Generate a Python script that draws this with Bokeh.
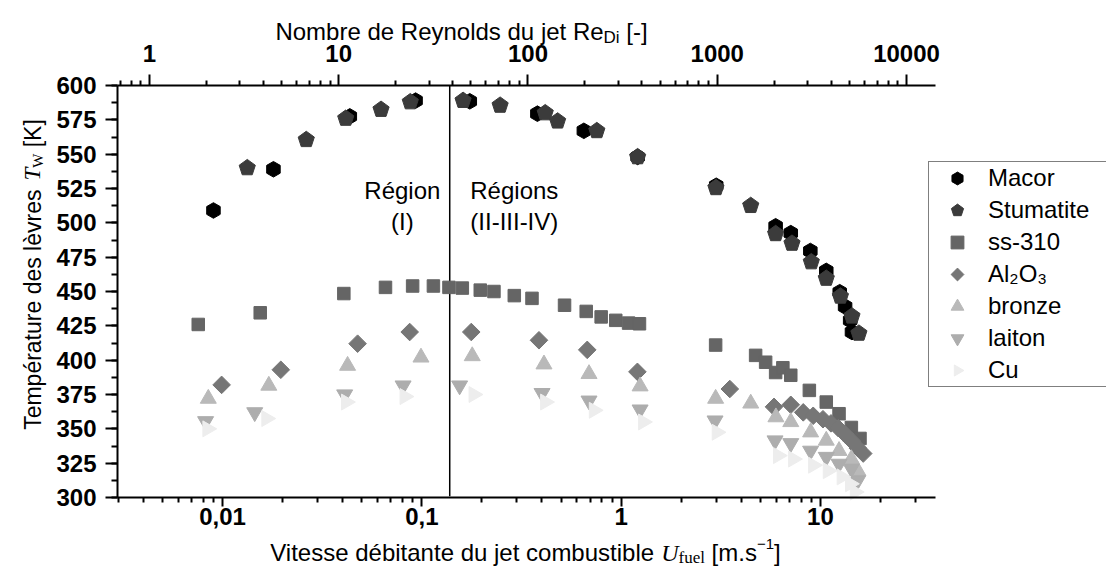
import math
from bokeh.plotting import figure
from bokeh.models import (Range1d, LogScale, LogAxis, FixedTicker, CustomJSTickFormatter,
                          SingleIntervalTicker, Label, Legend, LegendItem)
from bokeh.embed import file_html
from bokeh.resources import INLINE

# ---------------- data ----------------
macor_u = [0.0090, 0.0180, 0.0435, 0.093, 0.174, 0.38, 0.65, 1.21, 3.0, 5.96, 7.1, 8.9, 10.7, 12.5, 13.3, 14.1, 14.4]
macor_t = [509, 539, 577.5, 589, 588.5, 579.5, 567, 548, 527, 497.5, 492.5, 479.5, 465, 449.5, 439, 429, 420.5]

stum_u = [0.0133, 0.0263, 0.0415, 0.0624, 0.0875, 0.161, 0.247, 0.416, 0.48, 0.755, 1.21, 2.99, 4.47, 5.96, 7.2, 9.0, 10.7, 12.6, 14.4, 15.6]
stum_t = [540, 560.5, 576, 582.5, 588, 589, 585.5, 580, 574, 567, 548, 525.5, 512.5, 492, 485, 471.5, 459.5, 446.5, 432, 419.5]

ss_u = [0.00755, 0.01545, 0.0406, 0.0657, 0.0899, 0.1143, 0.1368, 0.1596, 0.1964, 0.23, 0.291, 0.357,
        0.52, 0.668, 0.794, 0.94, 1.09, 1.236, 2.98, 4.73, 5.31, 5.96, 6.48, 7.1, 8.8, 10.7, 12.4, 14.3, 15.8]
ss_t = [426, 434.5, 448.5, 453, 454, 454, 453, 452.5, 451, 450, 447, 445,
        440, 435.5, 431.5, 429, 427, 426.5, 411, 403.5, 398.5, 391, 394.5, 389, 378, 369.5, 361, 351, 343]

al_u = [0.00989, 0.0196, 0.0476, 0.0869, 0.177, 0.387, 0.676, 1.207, 3.51, 5.85, 7.1, 8.2, 9.2, 10.3, 11.3, 12.3, 13.3, 14.4, 15.4, 16.4]
al_t = [382, 393, 412, 420.5, 420.5, 414.5, 407.5, 391.5, 379, 366, 367.5, 362, 359.5, 357, 354, 350.5, 346, 341, 336, 332]

bronze_u = [0.00848, 0.01706, 0.0424, 0.099, 0.179, 0.41, 0.69, 1.245, 2.98, 4.47, 5.98, 7.1, 8.93, 10.7, 12.4, 14.3, 15.4]
bronze_t = [372, 381.5, 396, 402, 403, 397, 390, 381, 372, 368.5, 358.5, 355, 347.5, 341.5, 334, 328, 319.5]

laiton_u = [0.00822, 0.0145, 0.041, 0.0805, 0.1547, 0.401, 0.69, 1.245, 2.96, 5.92, 7.1, 8.93, 10.7, 12.4, 14.3, 15.4]
laiton_t = [355.5, 362, 375, 381.5, 381.5, 376, 370.5, 364, 356, 341.5, 339.5, 334, 329.5, 324.5, 321, 312.5]

cu_u = [0.0084, 0.0166, 0.0417, 0.082, 0.182, 0.416, 0.73, 1.29, 3.02, 6.13, 7.3, 9.2, 10.9, 12.8, 14.1, 14.9]
cu_t = [350, 357.5, 369.5, 373.5, 375, 369.5, 363.5, 355, 347.5, 330.5, 328, 323.5, 319.5, 315, 310, 304]

series_names = ["Macor", "Stumatite", "ss-310", "Al\u2082O\u2083", "bronze", "laiton", "Cu"]

u_ticks = [0.01, 0.1, 1, 10]
re_ticks = [1, 10, 100, 1000, 10000]
t_interval = 25
u_bounds = (0.00297, 37.8)
re_bounds = (0.678, 14230)
t_bounds = (300, 600)
region_boundary_u = 0.138
region_labels = [("Région", "(I)", 0.0798), ("Régions", "(II-III-IV)", 0.291)]

# ---------------- geometry ----------------
# The plotting frame fills the whole canvas; the axes are pinned with fixed_location/bounds
# so that the data area sits at page x 117..935, y 85..497.
W, H = 1106, 567
FL, FT, FR, FB = 117, 85, 935, 497
SANS = "Liberation Sans"
SERIF = "Liberation Serif"

lu0, lu1 = math.log10(u_bounds[0]), math.log10(u_bounds[1])
pxu = (FR - FL) / (lu1 - lu0)
x_full = (10 ** (lu0 - FL / pxu), 10 ** (lu1 + (W - FR) / pxu))
pxt = (FB - FT) / (t_bounds[1] - t_bounds[0])
y_full = (t_bounds[0] - (H - FB) / pxt, t_bounds[1] + FT / pxt)
lr0, lr1 = math.log10(re_bounds[0]), math.log10(re_bounds[1])
pxr = (FR - FL) / (lr1 - lr0)
re_full = (10 ** (lr0 - FL / pxr), 10 ** (lr1 + (W - FR) / pxr))

p = figure(width=W, height=H, x_axis_type="log",
           x_range=Range1d(*x_full), y_range=Range1d(*y_full),
           output_backend="svg", toolbar_location=None,
           min_border_left=0, min_border_top=0, min_border_right=0, min_border_bottom=0)
p.outline_line_color = None
p.grid.visible = False
p.background_fill_color = "white"
p.border_fill_color = "white"

def style_axis(ax, tick_out, minor_out, standoff):
    ax.axis_line_color = "black"
    ax.axis_line_width = 2
    ax.major_tick_line_color = "black"
    ax.major_tick_line_width = 2
    ax.minor_tick_line_color = "black"
    ax.minor_tick_line_width = 2
    ax.major_tick_in = 0
    ax.minor_tick_in = 0
    ax.major_tick_out = tick_out
    ax.minor_tick_out = minor_out
    ax.major_label_text_font = SANS
    ax.major_label_text_font_style = "bold"
    ax.major_label_text_font_size = "24px"
    ax.major_label_text_color = "black"
    ax.major_label_standoff = standoff
    ax.axis_label = None

def minor_list(lo, hi, e0, e1):
    return [m * 10.0 ** e for e in range(e0, e1) for m in range(2, 10)
            if lo <= m * 10.0 ** e <= hi]

# bottom axis
bx = p.xaxis[0]
bx.ticker = FixedTicker(ticks=u_ticks, minor_ticks=minor_list(*u_bounds, -3, 2))
bx.formatter = CustomJSTickFormatter(code="return String(tick).replace('.', ',');")
bx.fixed_location = t_bounds[0]
bx.bounds = u_bounds
style_axis(bx, 9, 5, 1)

# left axis
ly = p.yaxis[0]
ly.ticker = SingleIntervalTicker(interval=t_interval, num_minor_ticks=2)
ly.fixed_location = u_bounds[0]
ly.bounds = t_bounds
style_axis(ly, 12, 6, 9)

# top axis (Reynolds)
p.extra_x_ranges = {"re": Range1d(*re_full)}
p.extra_x_scales = {"re": LogScale()}
tx = LogAxis(x_range_name="re")
tx.ticker = FixedTicker(ticks=re_ticks, minor_ticks=minor_list(*re_bounds, -1, 5))
tx.formatter = CustomJSTickFormatter(code="return String(Math.round(tick));")
tx.fixed_location = t_bounds[1]
tx.bounds = re_bounds
style_axis(tx, 11, 5, 13)
p.add_layout(tx, "above")

# region boundary
p.segment(x0=[region_boundary_u], y0=[301], x1=[region_boundary_u], y1=[600],
          line_color="black", line_width=1.5)

# ---------------- series ----------------
r_macor = p.ngon(x=macor_u, y=macor_t, radius=7.8, radius_units="screen", n=6,
                 angle=0, fill_color="#000000", line_color="#000000")
r_stum = p.ngon(x=stum_u, y=stum_t, radius=8.5, radius_units="screen", n=5,
                angle=0, fill_color="#3b3b3b", line_color="#3b3b3b")
r_ss = p.scatter(ss_u, ss_t, marker="square", size=12.5,
                 fill_color="#656565", line_color="#656565")
r_al = p.ngon(x=al_u, y=al_t, radius=8.8, radius_units="screen", n=4,
              angle=0, fill_color="#767676", line_color="#767676")
r_br = p.scatter(bronze_u, bronze_t, marker="triangle", size=16,
                 fill_color="#b9b9b9", line_color="#b9b9b9")
r_la = p.scatter(laiton_u, laiton_t, marker="inverted_triangle", size=16,
                 fill_color="#adadad", line_color="#adadad")
r_cu = p.ngon(x=cu_u, y=cu_t, radius=9.2, radius_units="screen", n=3,
              angle=-math.pi / 2, fill_color="#ededed", line_color="#ededed")

renderers = [r_macor, r_stum, r_ss, r_al, r_br, r_la, r_cu]
legend = Legend(items=[LegendItem(label=n, renderers=[r]) for n, r in zip(series_names, renderers)],
                location=(928, H - 387),
                glyph_width=56, glyph_height=32, label_height=32, label_width=220, spacing=0,
                padding=0, margin=0, label_standoff=3,
                label_text_font=SANS, label_text_font_size="24px", label_text_color="black",
                label_text_baseline="middle",
                border_line_color="black", border_line_width=1.5,
                background_fill_color="white", background_fill_alpha=1)
p.add_layout(legend)

# region labels
for top, bottom, u in region_labels:
    p.add_layout(Label(x=u, y=523.6, text=top, text_align="center", text_baseline="alphabetic",
                       text_font=SANS, text_font_size="24px", text_color="black"))
    p.add_layout(Label(x=u, y=501, text=bottom, text_align="center", text_baseline="alphabetic",
                       text_font=SANS, text_font_size="24px", text_color="black"))

# ---------------- axis titles built from pieces ----------------
ARIAL = {' ': 278, '[': 278, ']': 278, '-': 333, '.': 278, 'V': 667, 'i': 222, 't': 278, 'e': 556,
         's': 500, 'd': 556, 'é': 556, 'b': 556, 'a': 556, 'n': 556, 'u': 556, 'j': 222, 'c': 500,
         'o': 556, 'm': 833, 'l': 222, 'N': 722, 'r': 333, 'R': 722, 'y': 500, 'T': 611, 'p': 556,
         'è': 556, 'v': 500, 'K': 667, 'D': 722, '1': 556, '\u2212': 584}
TIMES = {'U': 722, 'T': 556, 'f': 333, 'u': 500, 'e': 444, 'l': 278, 'W': 944, ' ': 250}

def width(s, font, size):
    tab = TIMES if font == SERIF else ARIAL
    return sum(tab.get(c, 556) for c in s) / 1000.0 * size

def pieces_total(pieces):
    return sum(width(t, f, s) for t, f, s, st, d in pieces)

def place_h(pieces, x0, base):
    x = x0
    for t, f, s, st, d in pieces:
        lead = len(t) - len(t.lstrip(" "))
        xs = x + width(" " * lead, f, s)
        p.add_layout(Label(x=xs, y=H - (base + d), x_units="screen", y_units="screen",
                           text=t.strip(" "), text_font=f, text_font_size=f"{s}px",
                           text_font_style=st, text_align="left", text_baseline="alphabetic",
                           text_color="black"))
        x += width(t, f, s)

def place_v(pieces, y0, base_x):
    y = y0
    for t, f, s, st, d in pieces:
        lead = len(t) - len(t.lstrip(" "))
        ys = y - width(" " * lead, f, s)
        p.add_layout(Label(x=base_x + d, y=H - ys, x_units="screen", y_units="screen",
                           text=t.strip(" "), text_font=f, text_font_size=f"{s}px",
                           text_font_style=st, angle=math.pi / 2, text_align="left",
                           text_baseline="alphabetic", text_color="black"))
        y -= width(t, f, s)

top_title = [("Nombre de Reynolds du jet Re", SANS, 24, "normal", 0),
             ("Di", SANS, 17, "normal", 6),
             (" [-]", SANS, 24, "normal", 0)]
place_h(top_title, 461 - pieces_total(top_title) / 2, 31)

bot_title = [("Vitesse débitante du jet combustible ", SANS, 24, "normal", 0),
             ("U", SERIF, 24, "italic", 0),
             ("fuel", SERIF, 17, "normal", 5),
             (" [m.s", SANS, 24, "normal", 0),
             ("\u22121", SANS, 15, "normal", -9),
             ("]", SANS, 24, "normal", 0)]
place_h(bot_title, 525 - pieces_total(bot_title) / 2, 552)

y_title = [("Température des lèvres ", SANS, 23, "normal", 0),
           ("T", SERIF, 23, "italic", 0),
           ("W", SERIF, 15, "normal", 5),
           (" [K]", SANS, 23, "normal", 0)]
place_v(y_title, 274 + pieces_total(y_title) / 2, 32)

open("out.html", "w").write(file_html(p, INLINE))
